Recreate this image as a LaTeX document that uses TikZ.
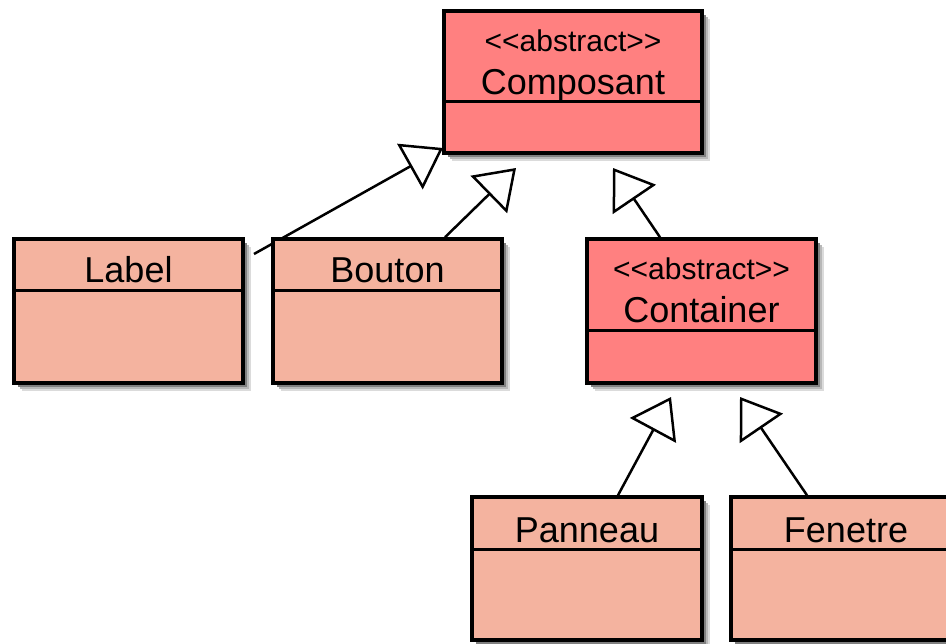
\documentclass[tikz,border=0pt]{standalone}
\usepackage{fontspec}
\setmainfont{Liberation Sans}
\usetikzlibrary{arrows.meta,shadows,calc}
\pgfdeclarelayer{background}
\pgfsetlayers{background,main}
\definecolor{absfill}{HTML}{FF8080}
\definecolor{concfill}{HTML}{F4B39F}
\tikzset{
  cls/.style={rectangle, draw=black, line width=3.5pt, inner sep=0pt,
    general shadow={shadow xshift=8pt, shadow yshift=-8pt, fill=black!14},
    general shadow={shadow xshift=6pt, shadow yshift=-6pt, fill=black!28},
    general shadow={shadow xshift=4pt, shadow yshift=-4pt, fill=black!50}},
  absclass/.style={cls, fill=absfill},
  concclass/.style={cls, fill=concfill},
  divider/.style={line width=3pt},
  stereo/.style={font=\fontsize{30}{30}\selectfont, anchor=base, inner sep=0pt},
  cname/.style={font=\fontsize{36}{36}\selectfont, anchor=base, inner sep=0pt},
  gen/.style={line width=2.5pt, -{Triangle[open, length=38pt, width=52pt]}},
}
\begin{document}
\begin{tikzpicture}[x=1pt, y=-1pt]
\useasboundingbox (0,0) rectangle (946,644);

% class boxes
\node[absclass, minimum width=258pt, minimum height=142pt] (comp) at (573,82) {};
\node[concclass, minimum width=229pt, minimum height=144pt] (lbl) at (128.5,311) {};
\node[concclass, minimum width=229pt, minimum height=144pt] (bout) at (387.5,311) {};
\node[absclass, minimum width=229pt, minimum height=144pt] (cont) at (701.5,311) {};
\node[concclass, minimum width=230pt, minimum height=143pt] (pan) at (587,568.5) {};
\node[concclass, minimum width=230pt, minimum height=143pt] (fen) at (846,568.5) {};

% compartment dividers
\draw[divider] (comp.west |- 0,102) -- (comp.east |- 0,102);
\draw[divider] (lbl.west |- 0,291) -- (lbl.east |- 0,291);
\draw[divider] (bout.west |- 0,291) -- (bout.east |- 0,291);
\draw[divider] (cont.west |- 0,331) -- (cont.east |- 0,331);
\draw[divider] (pan.west |- 0,549) -- (pan.east |- 0,549);
\draw[divider] (fen.west |- 0,549) -- (fen.east |- 0,549);

% texts
\node[stereo] (compst) at (573,52) {<{}<abstract>{}>};
\node[cname] (compnm) at (573,95) {Composant};
\node[cname] (lblnm) at (128.5,283) {Label};
\node[cname] (boutnm) at (387.5,283) {Bouton};
\node[stereo] (contst) at (701.5,280) {<{}<abstract>{}>};
\node[cname] (contnm) at (701.5,323) {Container};
\node[cname] (pannm) at (587,542) {Panneau};
\node[cname] (fennm) at (846,542) {Fenetre};

% free ends of the connectors
\coordinate (lblstart) at (254,254);
\coordinate (tipA) at (443,148);
\coordinate (tipB) at (516,168);
\coordinate (tipC) at (613,168);
\coordinate (tipD) at (671,397);
\coordinate (tipE) at (740,397);

% generalisation connectors (behind the boxes)
\begin{pgfonlayer}{background}
\draw[gen] (lblstart) -- (tipA);
\draw[gen] (bout.north -| 445,0) -- (tipB);
\draw[gen] (cont.north -| 660,0) -- (tipC);
\draw[gen] (pan.north -| 618,0) -- (tipD);
\draw[gen] (fen.north -| 807,0) -- (tipE);
\end{pgfonlayer}
\end{tikzpicture}
\end{document}
